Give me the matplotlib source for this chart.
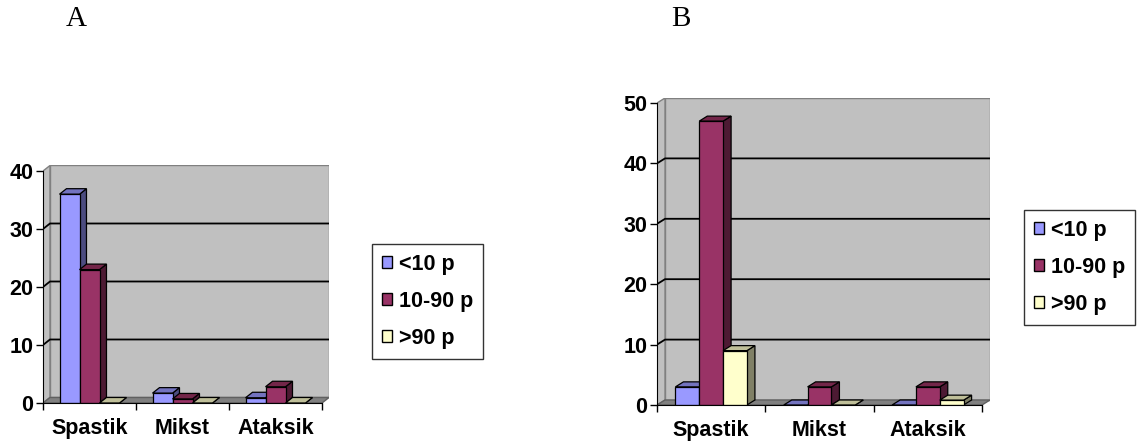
import numpy as np
import matplotlib
matplotlib.use("Agg")
from matplotlib import pyplot as plt
from matplotlib.patches import Patch, Polygon

plt.rcParams['font.family'] = 'Liberation Sans'
plt.rcParams['font.weight'] = 'bold'
plt.rcParams['font.size'] = 15.5

categories = ['Spastik', 'Mikst', 'Ataksik']
series = ['<10 p', '10-90 p', '>90 p']

# panel A
a_low = [36, 1.7, 0.9]
a_mid = [23, 0.7, 2.8]
a_high = [0, 0, 0]

# panel B
b_low = [3, 0, 0]
b_mid = [47, 3, 3]
b_high = [9, 0, 0.8]

front = ['#9999FF', '#993366', '#FFFFCC']
top_c = ['#7373BF', '#732649', '#BFBF99']
side_c = ['#4C4C80', '#4D1A33', '#808066']

W, H = 1139, 448
fig = plt.figure(figsize=(W / 100, H / 100), dpi=100)


def shade_panel(ax, data, ymax, step, width, ddx, ddy):
    n = len(categories)
    ax.set_xlim(0, n + ddx)
    ax.set_ylim(0, ymax + ddy)
    ax.set_facecolor('none')

    # walls and floor
    ax.add_patch(Polygon([(ddx, ddy), (n + ddx, ddy), (n + ddx, ymax + ddy), (ddx, ymax + ddy)],
                         closed=True, fc='#C0C0C0', ec='#808080', lw=1, zorder=0))
    ax.add_patch(Polygon([(0, 0), (ddx, ddy), (ddx, ymax + ddy), (0, ymax)],
                         closed=True, fc='#C0C0C0', ec='#808080', lw=1, zorder=0))
    ax.add_patch(Polygon([(0, 0), (n, 0), (n + ddx, ddy), (ddx, ddy)],
                         closed=True, fc='#808080', ec='#606060', lw=1, zorder=0.5))
    for v in np.arange(step, ymax, step):
        ax.plot([0, ddx, n + ddx], [v, v + ddy, v + ddy], color='black', lw=1.3, zorder=0.6)

    # 3d-looking bars
    z = 1
    for c in range(n):
        for s in range(len(series)):
            x0 = c + 0.5 + (s - 1.5) * width
            x1 = x0 + width
            v = data[s][c]
            ax.add_patch(Polygon([(x1, 0), (x1, v), (x1 + ddx, v + ddy), (x1 + ddx, ddy)],
                                 closed=True, fc=side_c[s], ec='black', lw=0.9, zorder=z))
            ax.add_patch(Polygon([(x0, v), (x1, v), (x1 + ddx, v + ddy), (x0 + ddx, v + ddy)],
                                 closed=True, fc=top_c[s], ec='black', lw=0.9, zorder=z))
            if v > 0:
                ax.bar(x0, v, width, align='edge', color=front[s], edgecolor='black',
                       lw=0.9, zorder=z + 0.5)
            z += 1

    for sp in ['top', 'right']:
        ax.spines[sp].set_visible(False)
    ax.spines['left'].set_bounds(0, ymax)
    ax.spines['bottom'].set_bounds(0, n)
    ax.spines['left'].set_zorder(50)
    ax.spines['bottom'].set_zorder(50)
    ax.set_yticks(np.arange(0, ymax + 1, step))
    ax.set_xticks(np.arange(0, n + 1))
    ax.set_xticklabels([])
    ax.set_xticks(np.arange(n) + 0.5, minor=True)
    ax.set_xticklabels(categories, minor=True)
    ax.tick_params(axis='y', direction='out', length=5, width=1, pad=2, labelsize=15.5)
    ax.tick_params(axis='x', which='major', direction='out', length=5, width=1)
    ax.tick_params(axis='x', which='minor', length=0, pad=11, labelsize=15.5)


def px_axes(left, right, bottom, top):
    return fig.add_axes([left / W, 1 - bottom / H, (right - left) / W, (bottom - top) / H])


# panel A: front 0..3 -> 43..322 px, 0..40 -> 403..171 px
ax_a = px_axes(43, 329, 403, 165.5)
shade_panel(ax_a, [a_low, a_mid, a_high], 40, 10, 0.215, 0.075, 0.95)

# panel B: front 0..3 -> 657..982 px, 0..50 -> 405..103 px
ax_b = px_axes(657, 990, 405, 98)
shade_panel(ax_b, [b_low, b_mid, b_high], 50, 10, 0.22, 0.074, 0.83)

handles = [Patch(fc=front[i], ec='black', lw=1) for i in range(3)]
for (lx, ly) in [(372, 244), (1024, 210)]:
    leg = fig.legend(handles, series, loc='upper left', bbox_to_anchor=(lx / W, 1 - ly / H),
                     frameon=True, fancybox=False, shadow=False, borderaxespad=0,
                     handlelength=0.5, handleheight=0.5, handletextpad=0.3,
                     labelspacing=0.75, borderpad=0.45, prop={'weight': 'bold', 'size': 15.5})
    leg.get_frame().set_edgecolor('black')
    leg.get_frame().set_linewidth(1)

fig.text(76 / W, 1 - 26 / H, 'A', family='Liberation Serif', weight='normal', size=21,
         ha='center', va='baseline')
fig.text(681 / W, 1 - 26 / H, 'B', family='Liberation Serif', weight='normal', size=21,
         ha='center', va='baseline')

fig.savefig('out.png', dpi=100)
